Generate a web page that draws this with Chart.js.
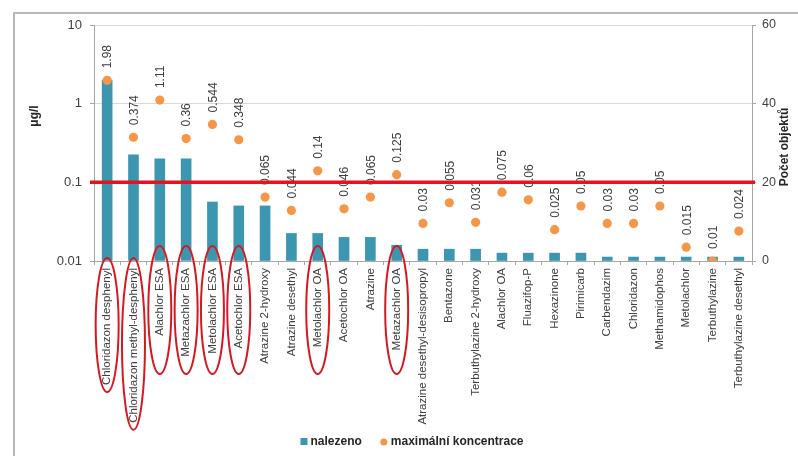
<!DOCTYPE html>
<html>
<head>
<meta charset="utf-8">
<script src="https://cdn.jsdelivr.net/npm/chart.js@4.4.1/dist/chart.umd.min.js"></script>
<style>
  html, body { margin: 0; padding: 0; background: #ffffff; }
  #frame { position: absolute; left: 13px; top: 12px; width: 800px; height: 460px;
           border-left: 2px solid #b8b8b8; border-top: 2px solid #b8b8b8; }
  #wrap { position: absolute; left: 0; top: 0; width: 798px; height: 456px; }
</style>
</head>
<body>
<div id="frame"></div>
<div id="wrap"><canvas id="c" width="798" height="456"></canvas></div>
<script>
// Pesticide metabolites found in drinking water sources
const categories = [
  'Chloridazon desphenyl', 'Chloridazon methyl-desphenyl', 'Alachlor ESA', 'Metazachlor ESA',
  'Metolachlor ESA', 'Acetochlor ESA', 'Atrazine 2-hydroxy', 'Atrazine desethyl',
  'Metolachlor OA', 'Acetochlor OA', 'Atrazine', 'Metazachlor OA',
  'Atrazine desethyl-desisopropyl', 'Bentazone', 'Terbuthylazine 2-hydroxy', 'Alachlor OA',
  'Fluazifop-P', 'Hexazinone', 'Pirimicarb', 'Carbendazim', 'Chloridazon',
  'Methamidophos', 'Metolachlor', 'Terbuthylazine', 'Terbuthylazine desethyl'
];

// number of sites where the substance was found (right axis)
const foundCounts = [46, 27, 26, 26, 15, 14, 14, 7, 7, 6, 6, 4, 3, 3, 3, 2, 2, 2, 2, 1, 1, 1, 1, 1, 1];

// maximum concentration in µg/l (left, logarithmic axis)
const maxConcentration = [1.98, 0.374, 1.11, 0.36, 0.544, 0.348, 0.065, 0.044, 0.14, 0.046, 0.065, 0.125,
  0.03, 0.055, 0.031, 0.075, 0.06, 0.025, 0.05, 0.03, 0.03, 0.05, 0.015, 0.01, 0.024];

const concTicks = [0.01, 0.1, 1, 10];
const countTicks = [0, 20, 40, 60];
const limitValue = 0.1; // drinking water limit
const circledCategories = ['Chloridazon desphenyl', 'Chloridazon methyl-desphenyl', 'Alachlor ESA',
  'Metazachlor ESA', 'Metolachlor ESA', 'Acetochlor ESA', 'Metolachlor OA', 'Metazachlor OA'];

const seriesNames = ['maximální koncentrace', 'nalezeno'];
const leftTitle = 'μg/l';
const rightTitle = 'Počet objektů';

const FONT = "'Liberation Sans', Arial, sans-serif";
const TICK_SIZE = 11.5;
const BAR_COLOR = '#3d96b0';
const DOT_COLOR = '#f79646';
const RED = '#e3141b';
const CIRCLE_RED = '#d41a20';

const overlay = {
  id: 'overlay',
  afterDraw(chart) {
    const ctx = chart.ctx;
    const area = chart.chartArea;
    const xs = chart.scales.x;
    const ys = chart.scales.y;
    const meta = chart.getDatasetMeta(0);

    // value labels above the maximum-concentration dots
    ctx.save();
    ctx.fillStyle = '#404040';
    ctx.font = '12px ' + FONT;
    ctx.textAlign = 'left';
    ctx.textBaseline = 'middle';
    meta.data.forEach((pt, i) => {
      ctx.save();
      ctx.translate(pt.x + 1, pt.y - 12);
      ctx.rotate(-Math.PI / 2);
      ctx.fillText(String(maxConcentration[i]), 0, 0);
      ctx.restore();
    });
    ctx.restore();

    // limit line
    const yl = ys.getPixelForValue(limitValue);
    ctx.save();
    ctx.strokeStyle = RED;
    ctx.lineWidth = 3.5;
    ctx.beginPath();
    ctx.moveTo(area.left - 4, yl);
    ctx.lineTo(area.right + 3, yl);
    ctx.stroke();
    ctx.restore();

    // circled category labels
    ctx.save();
    ctx.font = TICK_SIZE + 'px ' + FONT;
    ctx.strokeStyle = CIRCLE_RED;
    ctx.lineWidth = 2;
    const axisY = area.bottom;
    circledCategories.forEach(name => {
      const i = categories.indexOf(name);
      if (i < 0) return;
      const cx = xs.getPixelForValue(i);
      const textEnd = axisY + 7 + ctx.measureText(name).width;
      const bottom = Math.max(axisY + 113, textEnd + 7);
      const top = bottom > axisY + 120 ? axisY - 3 : axisY - 15;
      ctx.beginPath();
      ctx.ellipse(cx, (top + bottom) / 2, 11.5, (bottom - top) / 2, 0, 0, Math.PI * 2);
      ctx.stroke();
    });
    ctx.restore();

    // axis titles
    ctx.save();
    ctx.fillStyle = '#262626';
    ctx.font = 'bold 12px ' + FONT;
    ctx.textAlign = 'center';
    ctx.textBaseline = 'middle';
    ctx.translate(area.left - 59, area.top + 91);
    ctx.rotate(-Math.PI / 2);
    ctx.fillText(leftTitle, 0, 0);
    ctx.restore();

    ctx.save();
    ctx.fillStyle = '#262626';
    ctx.font = 'bold 12px ' + FONT;
    ctx.textAlign = 'center';
    ctx.textBaseline = 'middle';
    ctx.translate(area.right + 33, (area.top + area.bottom) / 2 + 4);
    ctx.rotate(-Math.PI / 2);
    ctx.fillText(rightTitle, 0, 0);
    ctx.restore();

    // legend: bars first, then dots
    ctx.save();
    ctx.font = 'bold 12px ' + FONT;
    ctx.fillStyle = '#262626';
    ctx.textBaseline = 'middle';
    ctx.textAlign = 'left';
    const ly = 442;
    const w1 = ctx.measureText(seriesNames[1]).width;
    const w2 = ctx.measureText(seriesNames[0]).width;
    const total = 10 + w1 + 19 + 10 + w2;
    let lx = (area.left + area.right) / 2 - 11 - total / 2;
    ctx.fillStyle = BAR_COLOR;
    ctx.fillRect(lx, ly - 4, 7, 7);
    ctx.fillStyle = '#262626';
    ctx.fillText(seriesNames[1], lx + 10, ly);
    lx += 10 + w1 + 19;
    ctx.fillStyle = DOT_COLOR;
    ctx.beginPath();
    ctx.arc(lx + 3, ly, 3.5, 0, Math.PI * 2);
    ctx.fill();
    ctx.fillStyle = '#262626';
    ctx.fillText(seriesNames[0], lx + 10, ly);
    ctx.restore();
  }
};

new Chart(document.getElementById('c'), {
  data: {
    labels: categories,
    datasets: [
      {
        type: 'line',
        label: seriesNames[0],
        data: maxConcentration,
        yAxisID: 'y',
        showLine: false,
        pointRadius: 4.6,
        pointHoverRadius: 4.6,
        pointBackgroundColor: DOT_COLOR,
        pointBorderWidth: 0,
        backgroundColor: DOT_COLOR,
        borderColor: DOT_COLOR,
        order: 0
      },
      {
        type: 'bar',
        label: seriesNames[1],
        data: foundCounts,
        yAxisID: 'y2',
        backgroundColor: BAR_COLOR,
        barThickness: 10,
        order: 1
      }
    ]
  },
  options: {
    responsive: false,
    animation: false,
    layout: { padding: { top: 25, left: 0, right: 0, bottom: 0 } },
    plugins: { legend: { display: false }, tooltip: { enabled: false } },
    scales: {
      x: {
        type: 'category',
        offset: true,
        grid: { offset: true, drawOnChartArea: false, drawTicks: true, tickLength: 4, color: '#a6a6a6' },
        border: { color: '#a6a6a6' },
        ticks: {
          autoSkip: false, minRotation: 90, maxRotation: 90, padding: 3,
          color: '#404040', font: { family: FONT, size: TICK_SIZE }
        },
        afterFit: s => { s.height = 195; }
      },
      y: {
        type: 'logarithmic',
        position: 'left',
        min: 0.01,
        max: 10,
        afterBuildTicks: s => { s.ticks = concTicks.map(v => ({ value: v })); },
        ticks: {
          callback: v => String(v),
          padding: 8,
          color: '#404040',
          font: { family: FONT, size: 13 }
        },
        grid: { color: '#d9d9d9', tickLength: 4, tickColor: '#a6a6a6' },
        border: { color: '#a6a6a6' },
        afterFit: s => { s.width = 94; }
      },
      y2: {
        type: 'linear',
        position: 'right',
        min: 0,
        max: 60,
        afterBuildTicks: s => { s.ticks = countTicks.map(v => ({ value: v })); },
        ticks: { padding: 6, color: '#404040', font: { family: FONT, size: 12.5 } },
        grid: { drawOnChartArea: false, tickLength: 4, color: '#a6a6a6' },
        border: { color: '#a6a6a6' },
        afterFit: s => { s.width = 46; }
      }
    }
  },
  plugins: [overlay]
});
</script>
</body>
</html>
